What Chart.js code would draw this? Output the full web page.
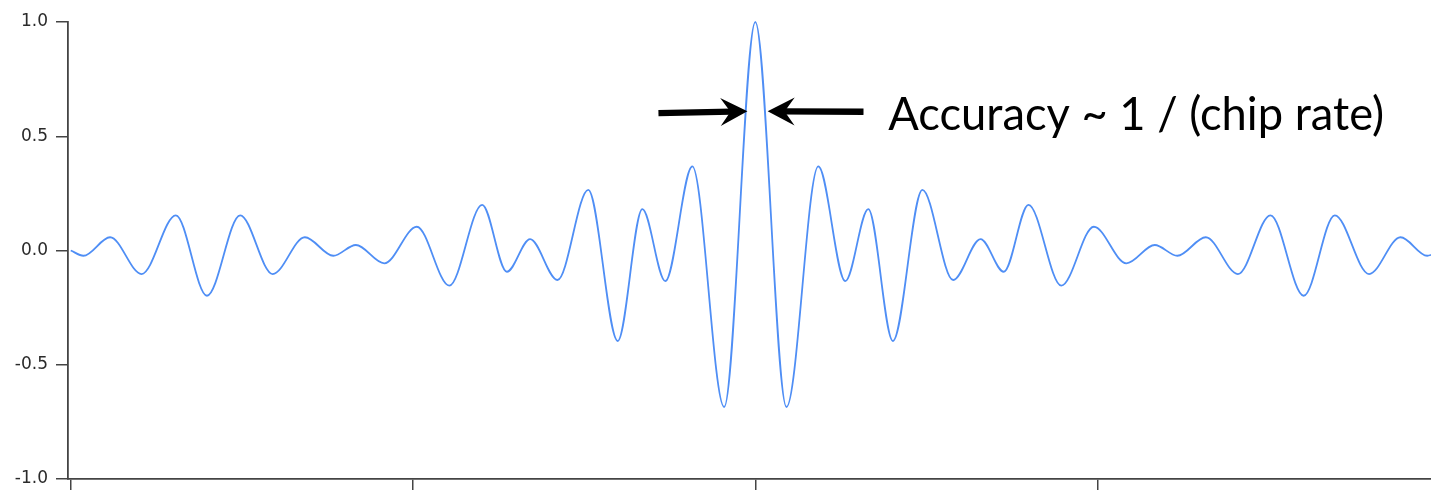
<!DOCTYPE html>
<html>
<head>
<meta charset="utf-8">
<script src="https://cdn.jsdelivr.net/npm/chart.js@4/dist/chart.umd.min.js"></script>
<style>
  html, body { margin: 0; padding: 0; background: #fff; overflow: hidden; }
  #wrap { width: 1431px; height: 490px; position: relative; }
</style>
</head>
<body>
<div id="wrap"><canvas id="myChart"></canvas></div>
<script>
/* Delay (chips-ish units) and correlation value */
const delayX = [0.000, 0.037, 0.115, 0.207, 0.307, 0.398, 0.495, 0.590, 0.684, 0.767,
                0.833, 0.916, 1.011, 1.106, 1.202, 1.274, 1.342, 1.422, 1.512, 1.598,
                1.670, 1.737, 1.816, 1.909, 2.000, 2.091, 2.184, 2.263, 2.330, 2.402,
                2.488, 2.578, 2.658, 2.726, 2.798, 2.894, 2.989, 3.084, 3.167, 3.233,
                3.316, 3.410, 3.505, 3.602, 3.693, 3.793, 3.885, 3.963, 4.000];
const corr = [0.000, -0.023, 0.058, -0.103, 0.154, -0.198, 0.154, -0.103, 0.058, -0.023,
              0.024, -0.056, 0.104, -0.154, 0.200, -0.093, 0.050, -0.129, 0.265, -0.396,
              0.181, -0.134, 0.368, -0.685, 1.000, -0.685, 0.368, -0.134, 0.181, -0.396,
              0.265, -0.129, 0.050, -0.093, 0.200, -0.154, 0.104, -0.056, 0.024, -0.023,
              0.058, -0.103, 0.154, -0.198, 0.154, -0.103, 0.058, -0.023, 0.000];
const yTicks = [-1.0, -0.5, 0.0, 0.5, 1.0];
const xTicks = [0, 1, 2, 3];
const noteText = 'Accuracy ~ 1 / (chip rate)';

/* Annotation anchors, in data units */
const leftArrow = { x0: 1.717, y0: 0.601, x1: 1.977, y1: 0.609 };
const rightArrow = { x0: 2.316, y0: 0.607, x1: 2.036, y1: 0.609 };
const noteAnchor = { x: 2.388, y: 0.528 };

const axisColor = '#444';

// arrow with a stealth-style head
function drawArrow(ctx, x0, y0, x1, y1) {
    const ang = Math.atan2(y1 - y0, x1 - x0);
    const len = 27, half = 14, notch = 17;
    ctx.save();
    ctx.translate(x1, y1);
    ctx.rotate(ang);
    const shaft = Math.hypot(x1 - x0, y1 - y0);
    ctx.fillStyle = '#000';
    ctx.fillRect(-shaft, -3.2, shaft - notch + 1, 6.4);
    ctx.beginPath();
    ctx.moveTo(0, 0);
    ctx.lineTo(-len, -half);
    ctx.lineTo(-notch, 0);
    ctx.lineTo(-len, half);
    ctx.closePath();
    ctx.fill();
    ctx.restore();
}

const notePlugin = {
    id: 'notePlugin',
    afterDatasetsDraw(chart) {
        const ctx = chart.ctx;
        const sx = chart.scales.x, sy = chart.scales.y;
        [leftArrow, rightArrow].forEach(a => {
            drawArrow(ctx, sx.getPixelForValue(a.x0), sy.getPixelForValue(a.y0),
                      sx.getPixelForValue(a.x1), sy.getPixelForValue(a.y1));
        });
        /* Texto ajustado al ancho (Calibri es mas angosta, se comprime un poco) */
        ctx.save();
        ctx.font = '46px Lato';
        const w = ctx.measureText(noteText).width;
        ctx.translate(sx.getPixelForValue(noteAnchor.x), sy.getPixelForValue(noteAnchor.y));
        ctx.scale(496 / w, 1);
        ctx.fillStyle = '#000';
        ctx.textAlign = 'left';
        ctx.textBaseline = 'alphabetic';
        ctx.fillText(noteText, 0, 0);
        ctx.restore();
    }
};

Chart.defaults.font.family = "'DejaVu Sans', sans-serif";

const points = delayX.map((x, i) => ({ x: x, y: corr[i] }));

const config = {
    type: 'line',
    data: {
        datasets: [{
            data: points,
            borderColor: '#4f8ef5',
            borderWidth: 1.8,
            pointRadius: 0,
            fill: false,
            cubicInterpolationMode: 'monotone',
            clip: false
        }]
    },
    options: {
        responsive: true,
        maintainAspectRatio: false,
        animation: false,
        layout: { padding: { top: 22, right: 0, bottom: 0, left: 0 } },
        plugins: { legend: { display: false }, tooltip: { enabled: false } },
        scales: {
            x: {
                type: 'linear',
                min: -0.008,
                max: 3.974,
                afterBuildTicks: s => { s.ticks = xTicks.map(v => ({ value: v })); },
                afterFit: s => { s.height = 11; },
                ticks: { display: false },
                grid: { drawOnChartArea: false, drawTicks: true, tickLength: 12, color: axisColor, lineWidth: 1.5 },
                border: { color: axisColor, width: 1.8 }
            },
            y: {
                min: -1,
                max: 1,
                afterBuildTicks: s => { s.ticks = yTicks.map(v => ({ value: v })); },
                afterFit: s => { s.width = 68; s.paddingTop = 0; s.paddingBottom = 0; },
                ticks: {
                    callback: v => Number(v).toFixed(1),
                    font: { size: 17 },
                    color: '#2a2a2a',
                    padding: 8
                },
                grid: { drawOnChartArea: false, drawTicks: true, tickLength: 12, color: axisColor, lineWidth: 1.5 },
                border: { color: axisColor, width: 1.8 }
            }
        }
    },
    plugins: [notePlugin]
};

const myChart = new Chart(document.getElementById('myChart'), config);
</script>
</body>
</html>
